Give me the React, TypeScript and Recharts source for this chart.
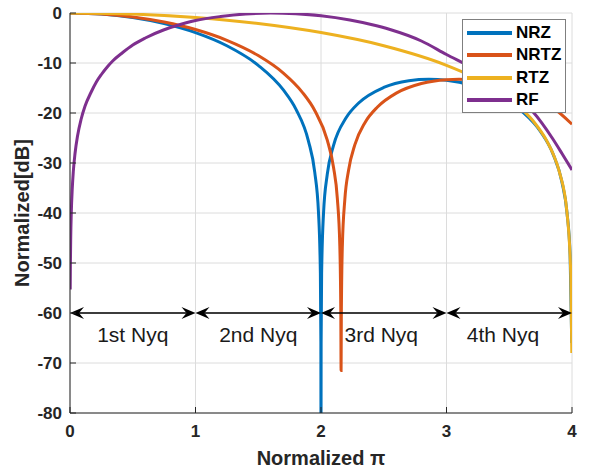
import {
  LineChart,
  Line,
  XAxis,
  YAxis,
  CartesianGrid,
  ReferenceLine,
  ReferenceDot,
  Legend,
} from "recharts";

const xTicks = [0, 1, 2, 3, 4];
const yTicks = [0, -10, -20, -30, -40, -50, -60, -70, -80];

// NRZ
const nrzX = [0, 0.25, 0.5, 0.75, 1, 1.25, 1.5, 1.7, 1.8, 1.9, 1.95, 1.98, 1.995, 1.999, 2, 2.001, 2.005, 2.02, 2.05, 2.1, 2.2, 2.3, 2.5, 2.7, 2.86, 3, 3.2, 3.4, 3.6, 3.75, 3.85, 3.92, 3.96, 3.985, 3.998];
const nrzDb = [0, -0.22, -0.91, -2.11, -3.92, -6.55, -10.46, -15.39, -19.23, -25.61, -31.83, -39.91, -52.02, -66.02, -90, -66.02, -52.06, -40.09, -32.26, -26.48, -20.97, -18.01, -14.89, -13.55, -13.26, -13.46, -14.46, -16.39, -19.67, -23.75, -28.27, -33.83, -39.92, -48.49, -66];

// NRTZ
const nrtzX = [0, 0.25, 0.5, 0.75, 1, 1.25, 1.5, 1.7, 1.85, 1.95, 2.05, 2.1, 2.13, 2.15, 2.158, 2.16, 2.162, 2.17, 2.19, 2.22, 2.27, 2.35, 2.45, 2.6, 2.8, 3, 3.1, 3.3, 3.5, 3.7, 3.85, 4];
const nrtzDb = [0, -0.19, -0.78, -1.8, -3.31, -5.46, -8.51, -12.01, -15.81, -19.49, -25.44, -30.89, -37.03, -46.65, -60.66, -71.5, -60.7, -46.73, -37.27, -31.38, -26.32, -21.93, -18.81, -16.03, -14.11, -13.34, -13.26, -13.66, -14.77, -16.73, -18.96, -22.25];

// RTZ
const rtzX = [0, 0.5, 1, 1.5, 2, 2.5, 3, 3.2, 3.4, 3.6, 3.7, 3.8, 3.85, 3.9, 3.96, 3.99, 3.9985];
const rtzDb = [0, -0.22, -0.91, -2.11, -3.92, -6.55, -10.46, -12.62, -15.39, -19.23, -21.9, -25.61, -28.21, -31.83, -39.91, -52.02, -68];

// RF
const rfX = [0.0017, 0.003, 0.006, 0.01, 0.018, 0.026, 0.04, 0.06, 0.088, 0.12, 0.167, 0.21, 0.25, 0.3, 0.34, 0.42, 0.5, 0.6, 0.75, 0.84, 1, 1.2, 1.4, 1.6, 1.8, 2, 2.23, 2.4, 2.55, 2.8, 3, 3.2, 3.4, 3.55, 3.69, 3.845, 3.92, 4];
const rfDb = [-55.3, -50.6, -44.6, -40.2, -35.1, -31.8, -28.1, -24.6, -21.3, -18.6, -15.9, -13.8, -12.3, -10.7, -9.6, -7.9, -6.4, -5.0, -3.35, -2.6, -1.5, -0.7, -0.2, 0, -0.15, -0.55, -1.4, -2.3, -3.3, -5.6, -8.3, -10.9, -13.9, -16.6, -19.8, -25.1, -28.1, -31.4];

const seriesNames = ["NRZ", "NRTZ", "RTZ", "RF"];
const seriesColors = ["#0072BD", "#D95319", "#EDB120", "#7E2F8E"];

// Nyquist zone arrows
const nyqFrom = [0, 1, 2, 3];
const nyqTo = [1, 2, 3, 4];
const nyqLevel = -60;
const nyqLabels = ["1st Nyq", "2nd Nyq", "3rd Nyq", "4th Nyq"];
const nyqLabelAt = [0.5, 1.5, 2.48, 3.45];

const toPoints = (xs: number[], ys: number[]) => xs.map((x, i) => ({ x, y: ys[i] }));
const seriesData = [
  toPoints(nrzX, nrzDb),
  toPoints(nrtzX, nrtzDb),
  toPoints(rtzX, rtzDb),
  toPoints(rfX, rfDb),
];

const FONT = "'Liberation Sans', Arial, Helvetica, sans-serif";
const AXIS = "#262626";

function DoubleArrow(props: any) {
  const { x1, y1, x2 } = props;
  const len = 14;
  const half = 6;
  const notch = 9;
  const y = y1;
  return (
    <g>
      <line x1={x1 + notch} y1={y} x2={x2 - notch} y2={y} stroke="#000" strokeWidth={1.5} />
      <polygon
        points={`${x1},${y} ${x1 + len},${y - half} ${x1 + notch},${y} ${x1 + len},${y + half}`}
        fill="#000"
      />
      <polygon
        points={`${x2},${y} ${x2 - len},${y - half} ${x2 - notch},${y} ${x2 - len},${y + half}`}
        fill="#000"
      />
    </g>
  );
}

const nyqText = (text: string) => (p: any) => (
  <text x={p.cx} y={p.cy + 29} textAnchor="middle" fontSize={21} fill="#1a1a1a" fontFamily={FONT}>
    {text}
  </text>
);

function YLabel(props: any) {
  const vb = props.viewBox || { x: 0, y: 13, width: 70, height: 400 };
  const cx = 29;
  const cy = vb.y + vb.height / 2;
  return (
    <text
      x={cx}
      y={cy}
      transform={`rotate(-90, ${cx}, ${cy})`}
      textAnchor="middle"
      fontSize={20}
      fontWeight="bold"
      fill={AXIS}
      fontFamily={FONT}
    >
      Normalized[dB]
    </text>
  );
}

function LegendBox() {
  const items = seriesNames.map((n, i) => ({ value: n, color: seriesColors[i] }));
  return (
    <div
      style={{
        width: 104,
        height: 94,
        boxSizing: "border-box",
        border: "1px solid #7f7f7f",
        background: "#fff",
        padding: "2px 0 0 4px",
        fontFamily: FONT,
      }}
    >
      {items.map((it) => (
        <div key={it.value} style={{ display: "flex", alignItems: "center", height: 22.3 }}>
          <span style={{ display: "inline-block", width: 45, height: 4, background: it.color, marginRight: 4 }} />
          <span style={{ fontWeight: 700, fontSize: 17, color: "#000", lineHeight: "22px" }}>{it.value}</span>
        </div>
      ))}
    </div>
  );
}

export default function App() {
  return (
    <div style={{ position: "absolute", left: 0, top: 0, width: 595, height: 470, background: "#fff" }}>
      <LineChart
        width={595}
        height={470}
        margin={{ top: 13, right: 23, left: 0, bottom: 0 }}
        style={{ fontFamily: FONT }}
      >
        <CartesianGrid stroke="#dcdcdc" strokeWidth={1} />
        <XAxis
          dataKey="x"
          type="number"
          domain={[0, 4]}
          ticks={xTicks}
          allowDataOverflow
          height={57}
          stroke={AXIS}
          tickSize={-6}
          tickMargin={18}
          tick={{ fill: AXIS, fontSize: 17, fontWeight: "bold" }}
          label={{
            value: "Normalized π",
            position: "insideBottom",
            offset: 5,
            style: { fill: AXIS, fontSize: 20, fontWeight: "bold", fontFamily: FONT },
          }}
        />
        <XAxis
          xAxisId="t"
          orientation="top"
          type="number"
          domain={[0, 4]}
          ticks={xTicks}
          height={0}
          stroke={AXIS}
          tickSize={-6}
          tickFormatter={() => ""}
        />
        <YAxis
          type="number"
          domain={[-80, 0]}
          ticks={yTicks}
          allowDataOverflow
          width={70}
          stroke={AXIS}
          tickSize={-6}
          tickMargin={14}
          tick={{ fill: AXIS, fontSize: 17, fontWeight: "bold" }}
          label={<YLabel />}
        />
        <YAxis
          yAxisId="r"
          orientation="right"
          type="number"
          domain={[-80, 0]}
          ticks={yTicks}
          width={0}
          stroke={AXIS}
          tickSize={-6}
          tickFormatter={() => ""}
        />
        {seriesData.map((d, i) => (
          <Line
            key={seriesNames[i]}
            data={d}
            dataKey="y"
            name={seriesNames[i]}
            type="monotone"
            stroke={seriesColors[i]}
            strokeWidth={3}
            dot={false}
            activeDot={false}
            isAnimationActive={false}
          />
        ))}
        {nyqFrom.map((f, i) => (
          <ReferenceLine
            key={`arr-${i}`}
            segment={[
              { x: f, y: nyqLevel },
              { x: nyqTo[i], y: nyqLevel },
            ]}
            ifOverflow="visible"
            shape={DoubleArrow}
          />
        ))}
        {nyqLabels.map((t, i) => (
          <ReferenceDot
            key={`lbl-${i}`}
            x={nyqLabelAt[i]}
            y={nyqLevel}
            r={0}
            ifOverflow="visible"
            shape={nyqText(t)}
          />
        ))}
        <Legend
          layout="horizontal"
          verticalAlign="middle"
          align="center"
          content={<LegendBox />}
          wrapperStyle={{ left: 462, top: 19, width: 104, height: 94 }}
        />
      </LineChart>
    </div>
  );
}
